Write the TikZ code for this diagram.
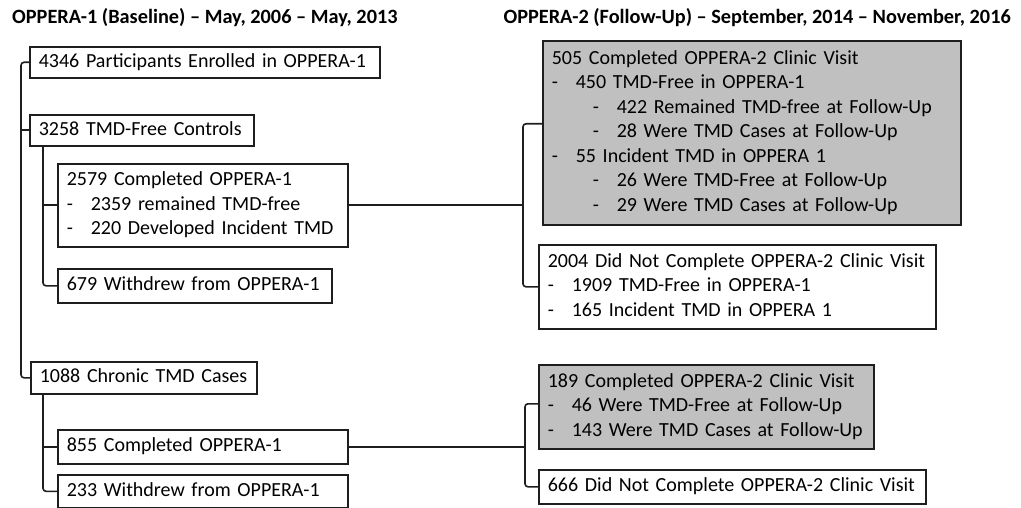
\documentclass[tikz,border=0pt]{standalone}
\usepackage{fontspec}
\setmainfont{Carlito}
\definecolor{linec}{RGB}{30,30,30}
\definecolor{boxgray}{RGB}{192,192,192}
\newcommand{\fs}{\fontsize{20pt}{24.5pt}\selectfont}
\newcommand{\fh}{\fontsize{20.3pt}{24.5pt}\selectfont\bfseries}
\newcommand{\da}{\makebox[24pt][l]{-}}
\newcommand{\db}{\hspace*{41pt}\makebox[24pt][l]{-}}
\newcommand{\lines}[1]{\begin{tabular}{@{}l@{}}#1\end{tabular}}
\begin{document}
\begin{tikzpicture}[x=1pt,y=-1pt,
  box/.style={draw=linec, line width=1.6pt, fill=white, anchor=north west,
    inner xsep=9pt, inner ysep=0pt, align=left, font=\fs, text=black},
  graybox/.style={box, fill=boxgray},
  conn/.style={draw=linec, line width=1.6pt, rounded corners=3pt},
  head/.style={font=\fh, inner sep=0pt}]
\useasboundingbox (0,0) rectangle (1021,508);

\node[head, anchor=west] (h1) at (12,18) {OPPERA-1 (Baseline) -- May, 2006 -- May, 2013};
\node[head, anchor=east] (h2) at (1011,18) {OPPERA-2 (Follow-Up) -- September, 2014 -- November, 2016};

\node[box, text width=332, minimum height=31] (n4346) at (29,46) {\lines{4346 Participants Enrolled in OPPERA-1}};
\node[box, text width=206, minimum height=31] (n3258) at (29,114) {\lines{3258 TMD-Free Controls}};
\node[box, text width=272, minimum height=83] (n2579) at (57,163) {\lines{2579 Completed OPPERA-1\\\da 2359 remained TMD-free\\\da 220 Developed Incident TMD}};
\node[box, text width=256, minimum height=34] (n679) at (57,268) {\lines{679 Withdrew from OPPERA-1}};
\node[box, text width=208, minimum height=32] (n1088) at (30,361) {\lines{1088 Chronic TMD Cases}};
\node[box, text width=272, minimum height=34] (n855) at (57,429) {\lines{855 Completed OPPERA-1}};
\node[box, text width=272, minimum height=33] (n233) at (57,474) {\lines{233 Withdrew from OPPERA-1}};

\node[graybox, text width=400, minimum height=184] (n505) at (542,40) {\lines{505 Completed OPPERA-2 Clinic Visit\\\da 450 TMD-Free in OPPERA-1\\\db 422 Remained TMD-free at Follow-Up\\\db 28 Were TMD Cases at Follow-Up\\\da 55 Incident TMD in OPPERA 1\\\db 26 Were TMD-Free at Follow-Up\\\db 29 Were TMD Cases at Follow-Up}};
\node[box, text width=379, minimum height=84] (n2004) at (538,244) {\lines{2004 Did Not Complete OPPERA-2 Clinic Visit\\\da 1909 TMD-Free in OPPERA-1\\\da 165 Incident TMD in OPPERA 1}};
\node[graybox, text width=317, minimum height=84] (n189) at (538,364) {\lines{189 Completed OPPERA-2 Clinic Visit\\\da 46 Were TMD-Free at Follow-Up\\\da 143 Were TMD Cases at Follow-Up}};
\node[box, text width=369, minimum height=34] (n666) at (538,469) {\lines{666 Did Not Complete OPPERA-2 Clinic Visit}};

\coordinate (t0) at (21,0);
\coordinate (t1) at (43,0);
\coordinate (b1) at (523,0);
\coordinate (b2) at (525,0);
\coordinate (h505) at ([yshift=9pt]n505.west);
\coordinate (h189) at ([yshift=3pt]n189.west);

% main trunk
\draw[conn] (n4346.west) -- (n4346.west -| t0) |- (n1088.west);
\draw[conn] (n3258.west) -- (n3258.west -| t0);
% controls
\draw[conn] (n3258.south -| t1) |- (n679.west);
\draw[conn] (n2579.west) -- (n2579.west -| t1);
% chronic
\draw[conn] (n1088.south -| t1) |- (n233.west);
\draw[conn] (n855.west) -- (n855.west -| t1);
% right bracket 1
\draw[conn] (h505) -- (h505 -| b1) |- (n2004.west);
\draw[conn] (n2579.east) -- (n2579.east -| b1);
% right bracket 2
\draw[conn] (h189) -- (h189 -| b2) |- (n666.west);
\draw[conn] (n855.east) -- (n855.east -| b2);
\end{tikzpicture}
\end{document}
